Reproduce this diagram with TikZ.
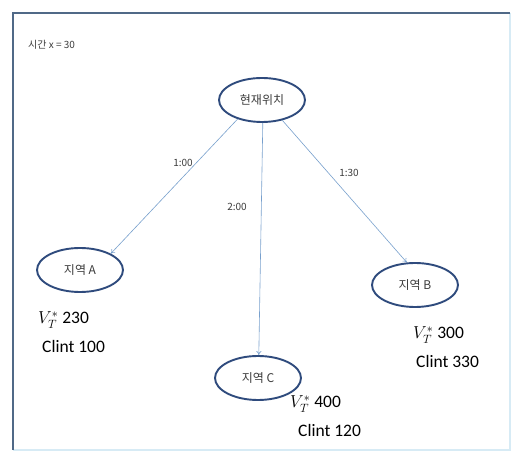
\documentclass[tikz,border=0pt]{standalone}
\usepackage{fontspec}
\setmainfont{Carlito}
\newfontfamily\kr{Noto Sans CJK KR}
\usetikzlibrary{shapes.geometric,arrows.meta}
\definecolor{ellc}{RGB}{47,75,125}
\definecolor{arrc}{RGB}{120,160,205}
\definecolor{txt}{RGB}{60,60,60}
\definecolor{frametop}{RGB}{80,105,135}
\definecolor{framelight}{RGB}{215,235,245}
\begin{document}
\begin{tikzpicture}[x=1pt,y=-1pt,
  place/.style={ellipse,draw=ellc,line width=1.9pt,minimum width=86pt,minimum height=44pt,inner sep=0pt,font=\kr\fontsize{12}{14}\selectfont,text=txt},
  arr/.style={draw=arrc,line width=0.6pt,-{To[length=4pt,width=5pt]}},
  lab/.style={font=\kr\fontsize{10}{12}\selectfont,text=txt,inner sep=1pt},
  val/.style={font=\fontsize{17.5}{20}\selectfont,anchor=west,inner sep=0pt}]
\useasboundingbox (0,0) rectangle (512,454);
\fill[white] (0,0) rectangle (512,454);
% frame
\draw[framelight,line width=1.2pt] (510,13) -- (510,450) -- (13,450);
\draw[frametop,line width=1.6pt] (13,450) -- (13,13) -- (510,13);
% title
\node[lab,anchor=west] (title) at (27,45) {시간 x = 30};
% places
\node[place] (cur) at (262,100) {현재위치};
\node[place] (A) at (80,270) {지역 A};
\node[place] (B) at (415,285) {지역 B};
\node[place] (C) at (258,378) {지역 C};
% arrows
\draw[arr] (cur.218) -- (A.28);
\draw[arr] (cur.272) -- (C.88);
\draw[arr] (cur.-45) -- (B.110);
% edge labels
\node[lab] (l1) at (183,163) {1:00};
\node[lab] (l2) at (237,207) {2:00};
\node[lab] (l3) at (349,173) {1:30};
% values
\node[val] (vA) at (38,320) {$V_T^{*}$ 230};
\node[val] (cA) at (42,346) {Clint 100};
\node[val] (vB) at (413,335) {$V_T^{*}$ 300};
\node[val] (cB) at (416,361) {Clint 330};
\node[val] (vC) at (290,404) {$V_T^{*}$ 400};
\node[val] (cC) at (298,430) {Clint 120};
\end{tikzpicture}
\end{document}
